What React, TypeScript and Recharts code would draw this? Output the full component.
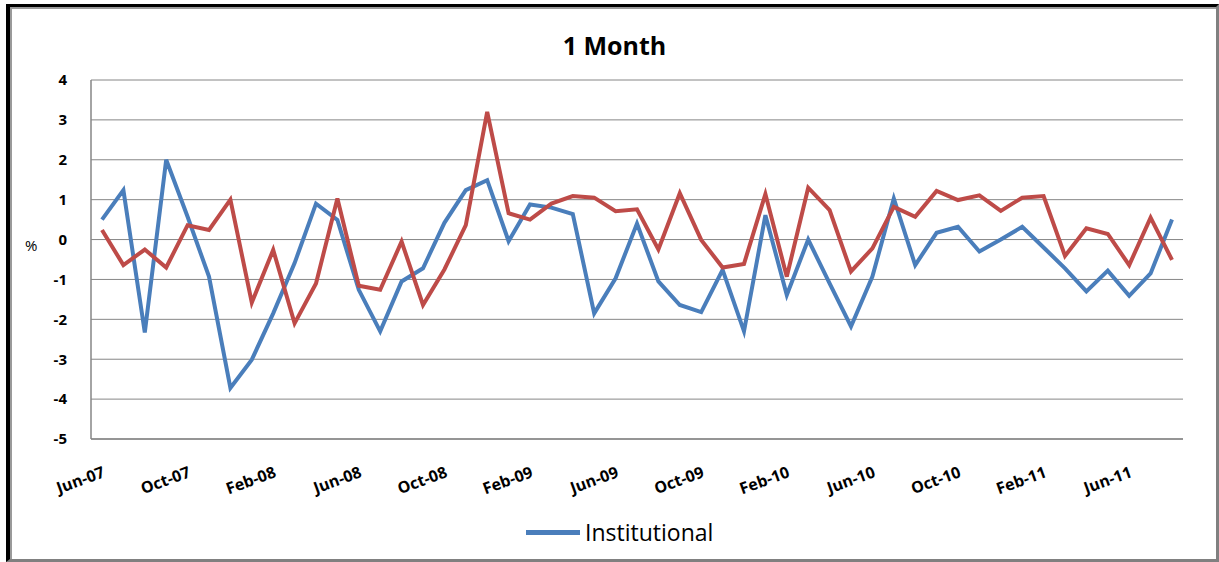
import React from "react";
import { LineChart, Line, XAxis, YAxis, CartesianGrid } from "recharts";

const months = [
  "Jun-07", "Jul-07", "Aug-07", "Sep-07", "Oct-07", "Nov-07", "Dec-07",
  "Jan-08", "Feb-08", "Mar-08", "Apr-08", "May-08", "Jun-08", "Jul-08",
  "Aug-08", "Sep-08", "Oct-08", "Nov-08", "Dec-08", "Jan-09", "Feb-09",
  "Mar-09", "Apr-09", "May-09", "Jun-09", "Jul-09", "Aug-09", "Sep-09",
  "Oct-09", "Nov-09", "Dec-09", "Jan-10", "Feb-10", "Mar-10", "Apr-10",
  "May-10", "Jun-10", "Jul-10", "Aug-10", "Sep-10", "Oct-10", "Nov-10",
  "Dec-10", "Jan-11", "Feb-11", "Mar-11", "Apr-11", "May-11", "Jun-11",
  "Jul-11", "Aug-11",
];

const institutional = [
  0.5, 1.24, -2.33, 2.0, 0.57, -0.93, -3.72, -3.01, -1.85, -0.59, 0.9,
  0.49, -1.26, -2.3, -1.05, -0.72, 0.42, 1.24, 1.49, -0.04, 0.88, 0.8,
  0.64, -1.85, -0.97, 0.4, -1.05, -1.64, -1.82, -0.76, -2.3, 0.61, -1.39,
  0.0, -1.1, -2.18, -0.93, 1.03, -0.64, 0.17, 0.32, -0.3, 0.0, 0.32, -0.2,
  -0.72, -1.3, -0.78, -1.41, -0.85, 0.5,
];

const other = [
  0.24, -0.64, -0.25, -0.7, 0.36, 0.24, 1.0, -1.58, -0.26, -2.1, -1.1,
  1.03, -1.16, -1.26, -0.05, -1.64, -0.75, 0.36, 3.2, 0.66, 0.5, 0.9,
  1.09, 1.05, 0.71, 0.76, -0.25, 1.16, -0.01, -0.7, -0.61, 1.14, -0.93,
  1.3, 0.74, -0.8, -0.22, 0.82, 0.57, 1.22, 0.99, 1.11, 0.72, 1.05, 1.09,
  -0.41, 0.28, 0.14, -0.64, 0.55, -0.51,
];

const yTicks = [-5, -4, -3, -2, -1, 0, 1, 2, 3, 4];

const data = months.map((month, i) => ({
  month,
  institutional: institutional[i],
  other: other[i],
}));

const FONT = "'Open Sans', sans-serif";
const GRID = "#868686";
const BLUE = "#4A7EBB";
const RED = "#BE4B48";

export default function App() {
  return (
    <div
      style={{
        position: "absolute",
        left: 0,
        top: 0,
        width: 1219,
        height: 562,
        background: "#fff",
        fontFamily: FONT,
      }}
    >
      {/* frame */}
      <div
        style={{
          position: "absolute",
          left: 6,
          top: 4,
          width: 1213,
          height: 558,
          boxSizing: "border-box",
          borderTop: "3px solid #000",
          borderLeft: "4px solid #000",
          borderRight: "3px solid #808080",
          borderBottom: "3px solid #808080",
        }}
      >
        <div
          style={{
            position: "absolute",
            inset: 0,
            borderTop: "2px solid #9a9a9a",
            borderLeft: "2px solid #9a9a9a",
          }}
        />
      </div>

      <div
        style={{
          position: "absolute",
          left: 0,
          top: 30,
          width: 1229,
          textAlign: "center",
          fontSize: 25,
          fontWeight: 700,
          lineHeight: "30px",
          color: "#000",
        }}
      >
        1 Month
      </div>

      <div style={{ position: "absolute", left: 0, top: 0 }}>
        <LineChart
          width={1219}
          height={562}
          data={data}
          margin={{ top: 80, right: 36, bottom: 63, left: 0 }}
        >
          <CartesianGrid vertical={false} stroke={GRID} strokeWidth={1} />
          <XAxis
            dataKey="month"
            interval={3}
            height={60}
            padding={{ left: 11, right: 11 }}
            axisLine={{ stroke: GRID, strokeWidth: 1.5 }}
            tickLine={false}
            tickSize={0}
            tickMargin={27}
            angle={-20}
            textAnchor="end"
            tick={{ fontSize: 16, fontWeight: 700, fill: "#000", fontFamily: FONT }}
          />
          <YAxis
            domain={[-5, 4]}
            ticks={yTicks}
            width={91}
            axisLine={{ stroke: GRID, strokeWidth: 1.5 }}
            tickLine={false}
            tickSize={0}
            tickMargin={24}
            tick={{ fontSize: 15, fontWeight: 700, fill: "#000", fontFamily: FONT }}
            label={{
              value: "%",
              position: "insideLeft",
              offset: 25,
              dy: -14,
              style: { fontSize: 15, fill: "#000", fontFamily: FONT },
            }}
          />
          <Line
            type="linear"
            dataKey="institutional"
            stroke={BLUE}
            strokeWidth={4}
            dot={false}
            isAnimationActive={false}
          />
          <Line
            type="linear"
            dataKey="other"
            stroke={RED}
            strokeWidth={4}
            dot={false}
            legendType="none"
            isAnimationActive={false}
          />
        </LineChart>
      </div>

      {/* legend */}
      <div
        style={{
          position: "absolute",
          left: 526,
          top: 516,
          display: "flex",
          alignItems: "center",
          height: 32,
        }}
      >
        <div style={{ width: 54, height: 5, background: BLUE }} />
        <span style={{ marginLeft: 5, fontSize: 23, color: "#000" }}>
          Institutional
        </span>
      </div>
    </div>
  );
}
